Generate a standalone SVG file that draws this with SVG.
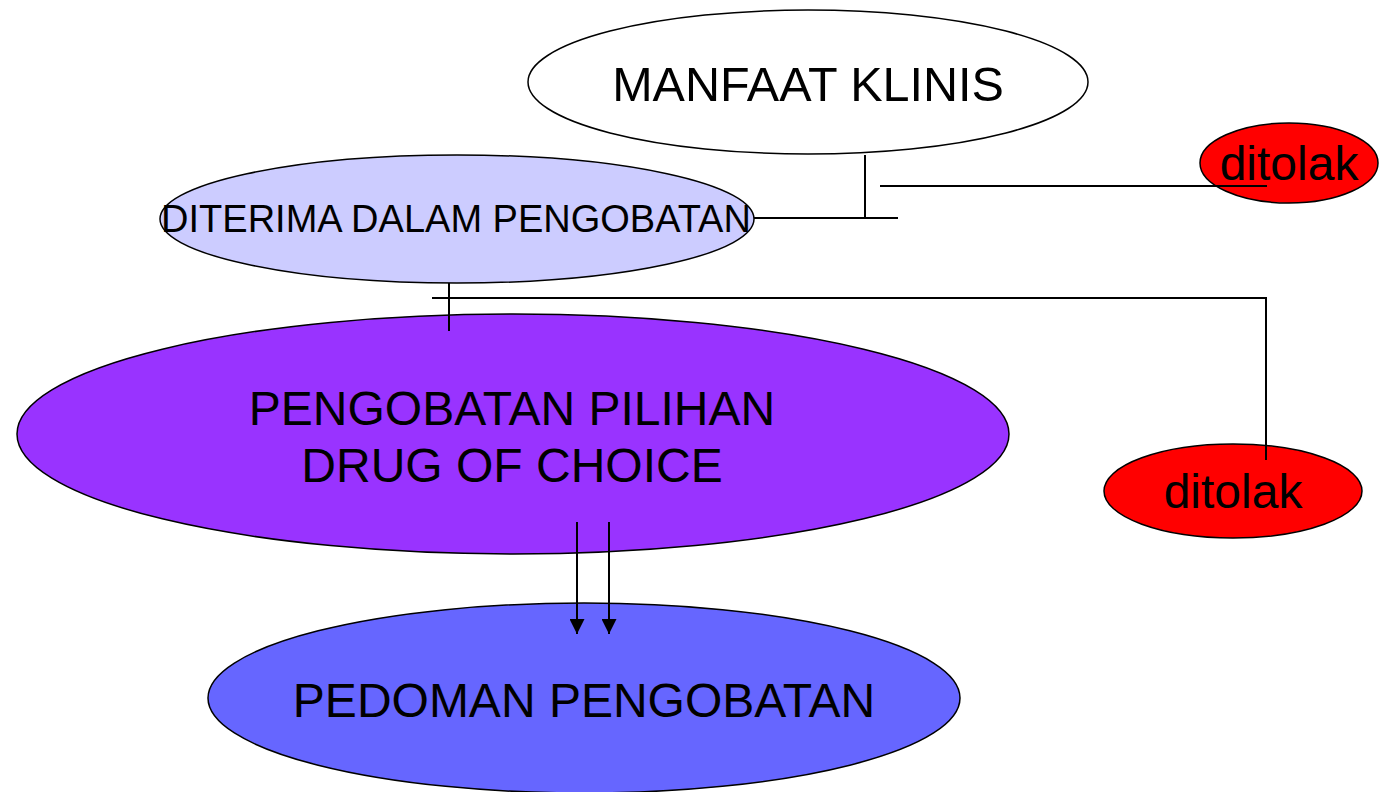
<svg xmlns="http://www.w3.org/2000/svg" width="1380" height="792" viewBox="0 0 1380 792">
<defs>
<style>
.n{stroke:#000;stroke-width:1.5}
.t{font-family:"Liberation Sans",Arial,sans-serif;fill:#000;text-anchor:middle}
.c{stroke:#000;stroke-width:2;fill:none}
</style>
<marker id="ah2" viewBox="0 0 15 15" refX="15" refY="7.5" markerWidth="15" markerHeight="15" markerUnits="userSpaceOnUse" orient="auto"><path d="M0,0 L15,7.5 L0,15 Z" fill="#000"/></marker>
</defs>
<rect width="1380" height="792" fill="#fff"/>
<g id="manfaat">
<ellipse class="n" cx="808" cy="82" rx="280" ry="72" fill="#fff"/>
<text class="t" x="808" y="101" font-size="48.5">MANFAAT KLINIS</text>
</g>
<g id="ditolak1">
<ellipse class="n" cx="1289" cy="163" rx="89" ry="40" fill="#ff0000"/>
<text class="t" x="1289" y="180" font-size="48">ditolak</text>
</g>
<g id="diterima">
<ellipse class="n" cx="457" cy="219" rx="297" ry="64" fill="#ccccff"/>
<text class="t" x="456" y="232" font-size="38">DITERIMA DALAM PENGOBATAN</text>
</g>
<g id="pilihan">
<ellipse class="n" cx="513" cy="434" rx="496" ry="120" fill="#9933ff"/>
<text class="t" x="512" y="425" font-size="48">PENGOBATAN PILIHAN</text>
<text class="t" x="512" y="482" font-size="48">DRUG OF CHOICE</text>
</g>
<g id="ditolak2">
<ellipse class="n" cx="1233" cy="491" rx="129" ry="47" fill="#ff0000"/>
<text class="t" x="1233" y="508" font-size="48">ditolak</text>
</g>
<g id="pedoman">
<ellipse class="n" cx="584" cy="698" rx="376" ry="95" fill="#6666ff"/>
<text class="t" x="584" y="717" font-size="48">PEDOMAN PENGOBATAN</text>
</g>
<g id="connectors">
<path class="c" d="M865,155 V218"/>
<path class="c" d="M754,218 H898"/>
<path class="c" d="M880,186 H1267"/>
<path class="c" d="M449,283 V331"/>
<path class="c" d="M432,298 H1266 V460"/>
<path class="c" d="M577,522 V634" marker-end="url(#ah2)"/>
<path class="c" d="M609,522 V634" marker-end="url(#ah2)"/>
</g>
</svg>
